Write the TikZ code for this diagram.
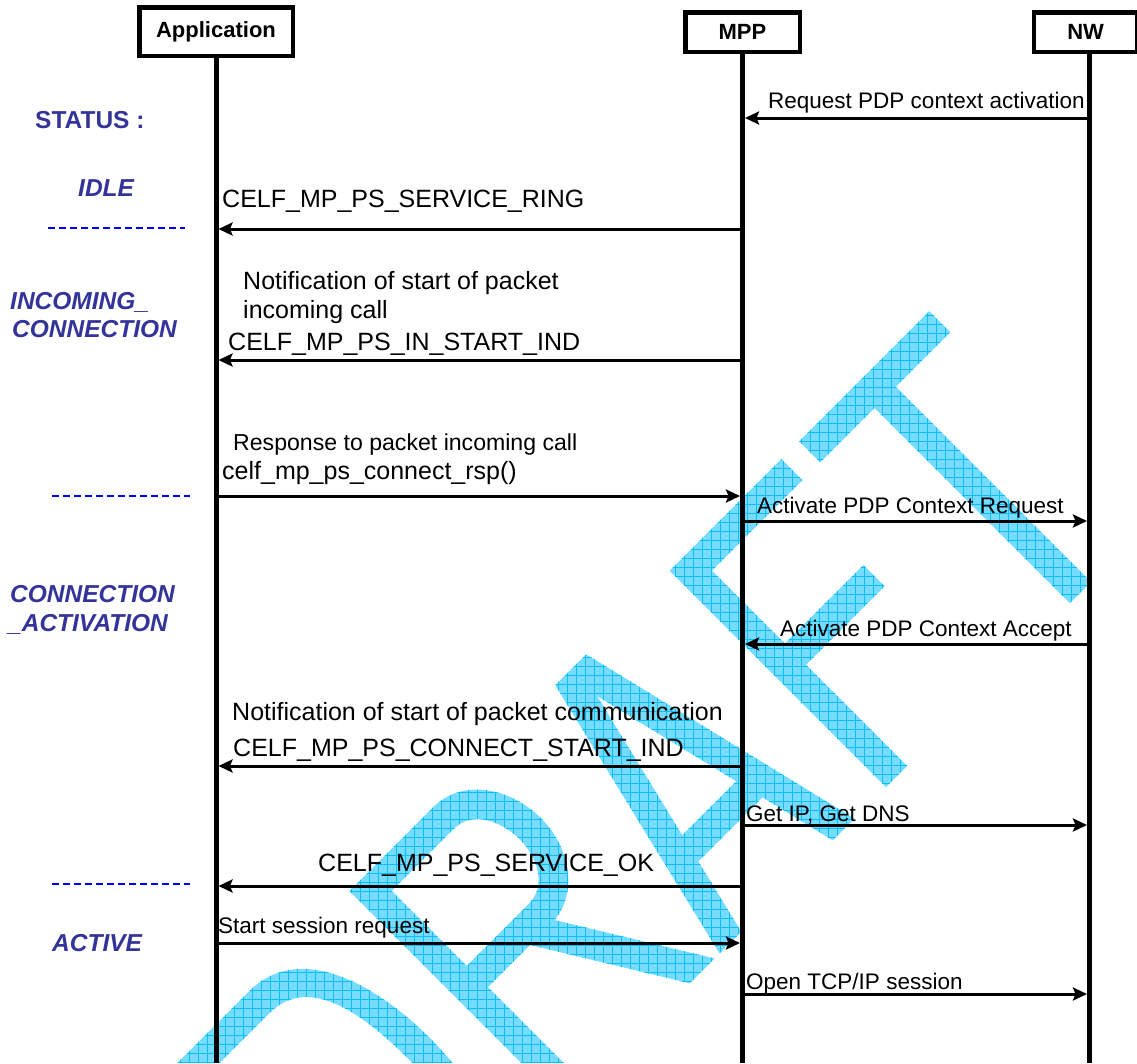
\documentclass[tikz,border=0pt]{standalone}
\usepackage{fontspec}
\setmainfont{Liberation Sans}
\usetikzlibrary{arrows.meta}
\definecolor{stateBlue}{RGB}{51,51,153}
\definecolor{draftBase}{RGB}{118,220,255}
\definecolor{draftGrid}{RGB}{10,190,250}
\tikzset{
  actorBox/.style={
    draw,
    line width=4.5pt,
    fill=white,
    inner sep=0pt,
    font=\bfseries\fontsize{22}{26}\selectfont
  },
  lifeLine/.style={line width=5pt},
  msgFlow/.style={line width=3pt, -{Stealth[length=14pt,width=13pt,inset=2.5pt]}, shorten >=2.5pt},
  msgText/.style={anchor=base west, inner sep=0pt, font=\fontsize{25}{30}\selectfont},
  msgSmall/.style={msgText, font=\fontsize{22.5}{27}\selectfont},
  stateText/.style={anchor=base west, inner sep=0pt, text=stateBlue, font=\bfseries\itshape\fontsize{24.5}{29}\selectfont},
  stateSep/.style={blue, line width=2pt, dash pattern=on 7pt off 4pt},
  draftFrame/.style={x=1pt, y=1pt, shift={(836.5pt,-836.5pt)}, rotate=45}
}

\begin{document}
\begin{tikzpicture}[x=1pt, y=-1pt]
  \useasboundingbox (0,0) rectangle (1137,1063);

  % DRAFT stamp: letter outlines on a 45 degree baseline, used as clip
  \begin{scope}
    \path[clip, draftFrame]
      % D
      (-640,0) -- (-610,0) -- (-610,306) -- (-640,306) -- cycle
      (-625,-15) -- (-525,-15) to[out=0,in=-90] (-430,145) to[out=90,in=0] (-525,306) -- (-625,306) -- cycle
      (-610,15) -- (-610,276) -- (-525,276) to[out=0,in=90] (-460,145) to[out=-90,in=0] (-525,15) -- cycle
      % R
      (-383,0) -- (-353,0) -- (-353,306) -- (-383,306) -- cycle
      (-368,140) -- (-265,140) to[out=0,in=-90] (-196,222) to[out=90,in=0] (-265,306) -- (-368,306) -- cycle
      (-353,170) -- (-353,276) -- (-265,276) to[out=0,in=90] (-226,222) to[out=-90,in=0] (-265,170) -- cycle
      (-207.6,0) -- (-172.4,0) -- (-272.2,162.8) -- (-297.8,147.2) -- cycle
      % A
      (-165.4,0) -- (-134.6,0) -- (-70,268.5) -- (-5.4,0) -- (25.4,0) -- (-48.2,306) -- (-91.8,306) -- cycle
      (-130,80) -- (-10,80) -- (-10,110) -- (-130,110) -- cycle
      % F
      (70,0) -- (100,0) -- (100,306) -- (70,306) -- cycle
      (100,276) -- (228,276) -- (228,306) -- (100,306) -- cycle
      (100,143) -- (211,143) -- (211,173) -- (100,173) -- cycle
      % T
      (253,276) -- (437,276) -- (437,306) -- (253,306) -- cycle
      (330,0) -- (360,0) -- (360,276) -- (330,276) -- cycle;
    \fill[draftBase] (0,0) rectangle (1137,1063);
    \foreach \gx in {0,9,...,1140}
      \draw[draftGrid, line width=0.8pt] (\gx,0) -- (\gx,1063);
    \foreach \gy in {0,9,...,1070}
      \draw[draftGrid, line width=0.8pt] (0,\gy) -- (1137,\gy);
  \end{scope}

  % actors
  \node[actorBox, minimum width=153.5pt, minimum height=48.5pt] (app) at (216,31.5) {Application};
  \node[actorBox, minimum width=114.5pt, minimum height=39.5pt] (mpp) at (742.5,32) {MPP};
  \node[actorBox, minimum width=102.75pt, minimum height=39.5pt] (nw) at (1085.6,32) {NW};

  \coordinate (appL) at (app.south);
  \coordinate (mppL) at (mpp.south);
  \coordinate (nwL) at ([xshift=3.9pt]nw.south);
  \coordinate (bottom) at (0,1063);

  % message levels
  \coordinate (lvAct) at (0,118);
  \coordinate (lvRing) at (0,229);
  \coordinate (lvIn) at (0,360);
  \coordinate (lvRsp) at (0,496);
  \coordinate (lvReq) at (0,521);
  \coordinate (lvAcc) at (0,644);
  \coordinate (lvStart) at (0,766);
  \coordinate (lvIp) at (0,825);
  \coordinate (lvOk) at (0,886);
  \coordinate (lvSess) at (0,943);
  \coordinate (lvTcp) at (0,994);

  % states on the left
  \node[stateText, font=\bfseries\fontsize{24.5}{29}\selectfont] (status) at (35,128) {STATUS :};
  \node[stateText] (idle) at (78,196) {IDLE};
  \node[stateText] (incoming1) at (10,309) {INCOMING\_};
  \node[stateText] (incoming2) at (12,337) {CONNECTION};
  \node[stateText] (activation1) at (10,602) {CONNECTION};
  \node[stateText] (activation2) at (8,631) {\_ACTIVATION};
  \node[stateText] (active) at (52,951) {ACTIVE};

  \draw[stateSep] (48,228) -- (185,228);
  \draw[stateSep] (52,496) -- (190,496);
  \draw[stateSep] (52,884) -- (190,884);

  % message labels
  \node[msgSmall] (actTxt) at (768,108) {Request PDP context activation};
  \node[msgText] (ringTxt) at (222,207) {CELF\_MP\_PS\_SERVICE\_RING};
  \node[msgText] (inNote1) at (243,289) {Notification of start of packet};
  \node[msgText] (inNote2) at (243,318) {incoming call};
  \node[msgText] (inTxt) at (228,350) {CELF\_MP\_PS\_IN\_START\_IND};
  \node[msgText, font=\fontsize{23.1}{28}\selectfont] (rspNote) at (233,450) {Response to packet incoming call};
  \node[msgText] (rspTxt) at (222,479) {celf\_mp\_ps\_connect\_rsp()};
  \node[msgSmall] (reqTxt) at (757,513) {Activate PDP Context Request};
  \node[msgSmall] (accTxt) at (780,636) {Activate PDP Context Accept};
  \node[msgText] (startNote) at (232,720) {Notification of start of packet communication};
  \node[msgText] (startTxt) at (233,756) {CELF\_MP\_PS\_CONNECT\_START\_IND};
  \node[msgSmall] (ipTxt) at (746,821) {Get IP, Get DNS};
  \node[msgText] (okTxt) at (318,871) {CELF\_MP\_PS\_SERVICE\_OK};
  \node[msgSmall] (sessTxt) at (218,933) {Start session request};
  \node[msgSmall] (tcpTxt) at (746,989) {Open TCP/IP session};

  % messages
  \draw[msgFlow] (nwL |- lvAct) -- (mppL |- lvAct);
  \draw[msgFlow] (mppL |- lvRing) -- (appL |- lvRing);
  \draw[msgFlow] (mppL |- lvIn) -- (appL |- lvIn);
  \draw[msgFlow] (appL |- lvRsp) -- (mppL |- lvRsp);
  \draw[msgFlow] (mppL |- lvReq) -- (nwL |- lvReq);
  \draw[msgFlow] (nwL |- lvAcc) -- (mppL |- lvAcc);
  \draw[msgFlow] (mppL |- lvStart) -- (appL |- lvStart);
  \draw[msgFlow] (mppL |- lvIp) -- (nwL |- lvIp);
  \draw[msgFlow] (mppL |- lvOk) -- (appL |- lvOk);
  \draw[msgFlow] (appL |- lvSess) -- (mppL |- lvSess);
  \draw[msgFlow] (mppL |- lvTcp) -- (nwL |- lvTcp);

  % lifelines
  \draw[lifeLine] (appL) -- (appL |- bottom);
  \draw[lifeLine] (mppL) -- (mppL |- bottom);
  \draw[lifeLine] (nwL) -- (nwL |- bottom);
\end{tikzpicture}
\end{document}
